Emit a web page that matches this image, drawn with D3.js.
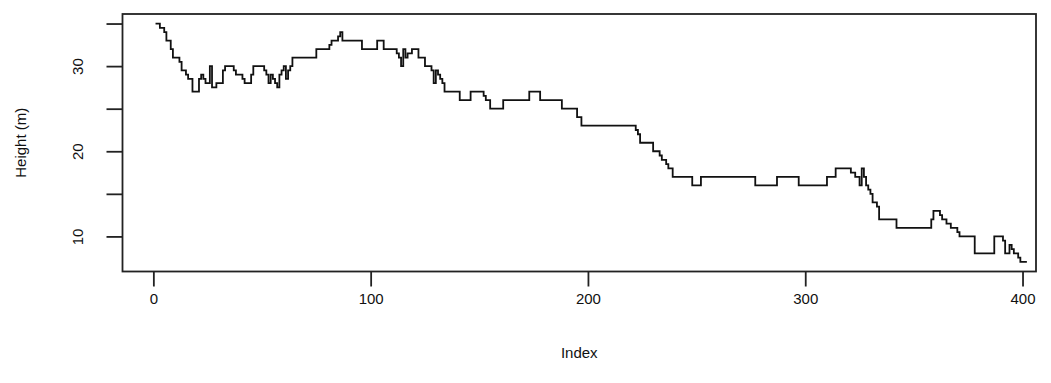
<!DOCTYPE html>
<html>
<head>
<meta charset="utf-8">
<script src="https://cdn.jsdelivr.net/npm/d3@7"></script>
<style>
  body { margin: 0; background: #fff; }
  svg { display: block; font-family: "Liberation Sans", Arial, sans-serif; }
</style>
</head>
<body>
<svg id="chart"></svg>
<script>
// step points: index where the height changes, and the new height (m)
const stepIndex = [1, 3, 5, 6, 8, 9, 12, 13, 15, 16, 18, 21, 22, 23, 24, 26, 27, 29, 32, 33,
  37, 38, 41, 42, 45, 46, 51, 52, 53, 54, 55, 56, 57, 58, 59, 60, 61, 62, 63, 64,
  75, 81, 82, 85, 86, 87, 96, 103, 106, 112, 113, 114, 115, 116, 117, 119, 122, 125, 128, 129,
  130, 131, 132, 133, 134, 141, 146, 152, 153, 155, 161, 173, 178, 188, 195, 197,
  222, 223, 224, 230, 233, 234, 236, 237, 239, 248, 252, 277, 287, 297, 310, 314,
  321, 323, 325, 326, 327, 328, 329, 330, 331, 333, 334, 342, 358, 359, 362, 363,
  365, 367, 370, 371, 378, 387, 391, 392, 394, 395, 396, 398, 399, 402]
const stepHeight = [35, 34.5, 34, 33, 32, 31, 30.5, 29.5, 29, 28.5, 27, 28.5, 29, 28.5, 28, 30, 27.5, 28, 29.5, 30,
  29.5, 29, 28.5, 28, 29, 30, 29.5, 29, 28, 29, 28.5, 28, 27.5, 29, 29.5, 30, 28.5, 29.5, 30, 31,
  32, 32.5, 33, 33.5, 34, 33, 32, 33, 32, 31.5, 31, 30, 32, 31, 31.5, 32, 31, 30, 29.5, 28,
  29.5, 29, 28.5, 28, 27, 26, 27, 26.5, 26, 25, 26, 27, 26, 25, 24, 23,
  22.5, 22, 21, 20, 19.5, 19, 18.5, 18, 17, 16, 17, 16, 17, 16, 17, 18,
  17.5, 17, 16, 18, 17, 16, 15.5, 15, 14, 13.5, 12, 11, 12, 13, 12.5, 12,
  11.5, 11, 10.5, 10, 8, 10, 9.5, 8, 9, 8.5, 8, 7.5, 7, 7]

const xTicks = [0, 100, 200, 300, 400]
const yTicks = [10, 15, 20, 25, 30, 35]
const yTickLabels = ["10", "", "20", "", "30", ""]
const xTitle = "Index"
const yTitle = "Height (m)"

const width = 1051, height = 383
const margin = { top: 14, right: 15, bottom: 111.5, left: 122.5 }

const x = d3.scaleLinear()
    .domain([-14.2, 406.2])
    .range([margin.left, width - margin.right])

const y = d3.scaleLinear()
    .domain([5.88, 36.12])
    .range([height - margin.bottom, margin.top])

const svg = d3.select("#chart")
    .attr("width", width)
    .attr("height", height)
    .attr("viewBox", [0, 0, width, height])

const pts = stepIndex.map((d, i) => [d, stepHeight[i]])

const line = d3.line()
    .x(d => x(d[0]))
    .y(d => y(d[1]))
    .curve(d3.curveStepAfter)

svg.append("path")
    .attr("fill", "none")
    .attr("stroke", "#111")
    .attr("stroke-width", 1.8)
    .attr("stroke-linejoin", "miter")
    .attr("d", line(pts))

// box around the plot region
svg.append("rect")
    .attr("x", margin.left)
    .attr("y", margin.top)
    .attr("width", width - margin.right - margin.left)
    .attr("height", height - margin.bottom - margin.top)
    .attr("fill", "none")
    .attr("stroke", "#222")
    .attr("stroke-width", 1.8)

const xAxis = g => g
    .attr("transform", `translate(0,${height - margin.bottom})`)
    .call(d3.axisBottom(x).tickValues(xTicks).tickSize(15).tickPadding(7).tickSizeOuter(0))
    .call(g => g.select(".domain").remove())
    .call(g => g.selectAll(".tick line").attr("stroke", "#222").attr("stroke-width", 1.8))
    .call(g => g.selectAll(".tick text")
        .attr("fill", "#111")
        .attr("font-size", 15)
        .attr("font-family", "Liberation Sans, Arial, sans-serif"))

const yAxis = g => g
    .attr("transform", `translate(${margin.left},0)`)
    .call(d3.axisLeft(y).tickValues(yTicks).tickSize(16).tickSizeOuter(0)
        .tickFormat((d, i) => yTickLabels[i]))
    .call(g => g.select(".domain").remove())
    .call(g => g.selectAll(".tick line").attr("stroke", "#222").attr("stroke-width", 1.8))
    .call(g => g.selectAll(".tick text")
        .attr("fill", "#111")
        .attr("font-size", 15)
        .attr("font-family", "Liberation Sans, Arial, sans-serif")
        .attr("x", -45)
        .attr("dy", 0)
        .attr("text-anchor", "middle")
        .attr("dominant-baseline", "central")
        .attr("transform", function () {
          return `rotate(-90,${d3.select(this).attr("x")},0)`
        }))

svg.append("g").call(xAxis)
svg.append("g").call(yAxis)

svg.append("text")
    .attr("x", (margin.left + width - margin.right) / 2)
    .attr("y", 358)
    .attr("text-anchor", "middle")
    .attr("font-size", 15)
    .attr("fill", "#111")
    .text(xTitle)

svg.append("text")
    .attr("transform", `translate(26,${(margin.top + height - margin.bottom) / 2}) rotate(-90)`)
    .attr("text-anchor", "middle")
    .attr("font-size", 15)
    .attr("fill", "#111")
    .text(yTitle)
</script>
</body>
</html>
